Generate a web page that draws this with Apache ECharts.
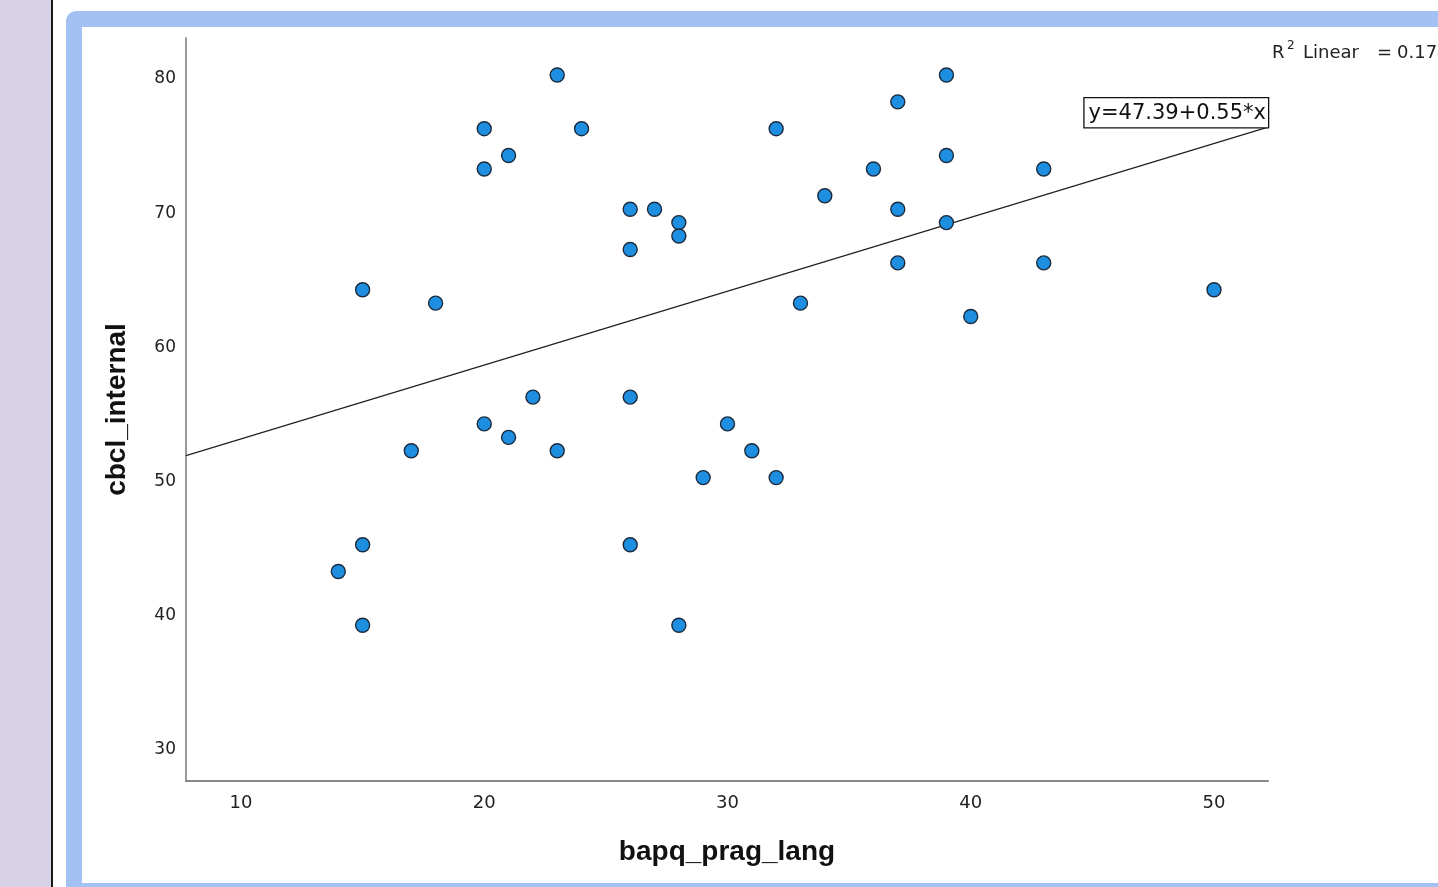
<!DOCTYPE html>
<html>
<head>
<meta charset="utf-8">
<script src="https://cdn.jsdelivr.net/npm/echarts@6/dist/echarts.min.js"></script>
<style>
html,body{margin:0;padding:0;background:#fff;}
#chart{width:1438px;height:887px;}
</style>
</head>
<body>
<div id="chart"></div>
<script>
// Data
const bapq_prag_lang = [23,39,37,20,24,32,21,39,20,36,43,34,26,27,37,28,39,28,26,37,43,15,50,18,33,40,22,26,20,30,21,17,23,31,29,32,15,26,14,15,28];
const cbcl_internal  = [80,80,78,76,76,76,74,74,73,73,73,71,70,70,70,69,69,68,67,66,66,64,64,63,63,62,56,56,54,54,53,52,52,52,50,50,45,45,43,39,39];
const xTicks = [10,20,30,40,50];
const yTicks = [30,40,50,60,70,80];
const fitIntercept = 47.39;
const fitSlope = 0.55;
const equationText = 'y=47.39+0.55*x';
const rSquaredText = '0.174';
const xTitle = 'bapq_prag_lang';
const yTitle = 'cbcl_internal';

const xMin = 7.739, xMax = 52.22;
const yMin = 27.392, yMax = 82.757;

const points = bapq_prag_lang.map((x, i) => [x, cbcl_internal[i]]);
const fitLine = [[xMin, fitIntercept + fitSlope * xMin], [xMax, fitIntercept + fitSlope * xMax]];

const chart = echarts.init(document.getElementById('chart'), null, {renderer: 'canvas'});
const tickFont = {fontFamily: 'DejaVu Sans', fontSize: 17, color: '#222'};
const rBase = {fontFamily: 'DejaVu Sans', fontSize: 18, fill: '#222', verticalAlign: 'bottom', lineHeight: 22};

chart.setOption({
  animation: false,
  backgroundColor: '#ffffff',
  graphic: [
    {type: 'rect', z: -100, silent: true, shape: {x: 0, y: 0, width: 51, height: 887}, style: {fill: '#d8d2e8'}},
    {type: 'rect', z: -100, silent: true, shape: {x: 51, y: 0, width: 2, height: 887}, style: {fill: '#1a1a1a'}},
    {type: 'rect', z: -100, silent: true, shape: {x: 66, y: 11, width: 1500, height: 1000, r: 10}, style: {fill: '#a3c1f2'}},
    {type: 'rect', z: -99, silent: true, shape: {x: 82, y: 27, width: 1500, height: 856}, style: {fill: '#ffffff'}},
    {type: 'text', z: 50, left: 1272, top: 40, style: {
      text: '{r|R}{sup|2}{w|Linear}{eq|=}{v|' + rSquaredText + '}',
      rich: {
        r: Object.assign({}, rBase, {width: 15}),
        sup: {fontFamily: 'DejaVu Sans', fontSize: 12, fill: '#222', verticalAlign: 'top', lineHeight: 22, width: 16, padding: [0, 0, 10, 0]},
        w: Object.assign({}, rBase, {width: 74}),
        eq: Object.assign({}, rBase, {width: 20}),
        v: Object.assign({}, rBase)
      }
    }}
  ],
  grid: {left: 186, right: 170, top: 38, bottom: 106, containLabel: false},
  xAxis: {
    type: 'value', min: xMin, max: xMax,
    name: xTitle, nameLocation: 'middle', nameGap: 57,
    nameTextStyle: {fontFamily: 'Liberation Sans', fontWeight: 'bold', fontSize: 28, color: '#111'},
    axisLine: {show: true, onZero: false, lineStyle: {color: '#888', width: 2}},
    axisTick: {show: false},
    splitLine: {show: false},
    axisLabel: Object.assign({customValues: xTicks, margin: 13}, tickFont, {fontSize: 18})
  },
  yAxis: {
    type: 'value', min: yMin, max: yMax,
    name: yTitle, nameLocation: 'middle', nameGap: 55, nameRotate: 90,
    nameTextStyle: {fontFamily: 'Liberation Sans', fontWeight: 'bold', fontSize: 28, color: '#111'},
    axisLine: {show: true, onZero: false, lineStyle: {color: '#999', width: 2}},
    axisTick: {show: false},
    splitLine: {show: false},
    axisLabel: Object.assign({customValues: yTicks, margin: 10, verticalAlign: 'top', lineHeight: 8}, tickFont)
  },
  series: [
    {
      type: 'line', data: fitLine, symbol: 'none', silent: true, z: 3,
      lineStyle: {color: '#222', width: 1.3},
      markPoint: {
        symbol: 'rect', symbolSize: 0,
        data: [{coord: fitLine[1], value: equationText}],
        label: {
          show: true, formatter: equationText, position: 'left', distance: 0,
          align: 'right', verticalAlign: 'bottom',
          fontFamily: 'DejaVu Sans', fontSize: 21, color: '#111',
          backgroundColor: '#fff', borderColor: '#111', borderWidth: 1.3,
          padding: [5, 2, 3, 4]
        }
      }
    },
    {
      type: 'scatter', data: points, symbol: 'circle', symbolSize: 14, z: 4,
      itemStyle: {color: '#1e8fe0', borderColor: '#1b2a3c', borderWidth: 1.4, opacity: 1}
    }
  ]
});
</script>
</body>
</html>
